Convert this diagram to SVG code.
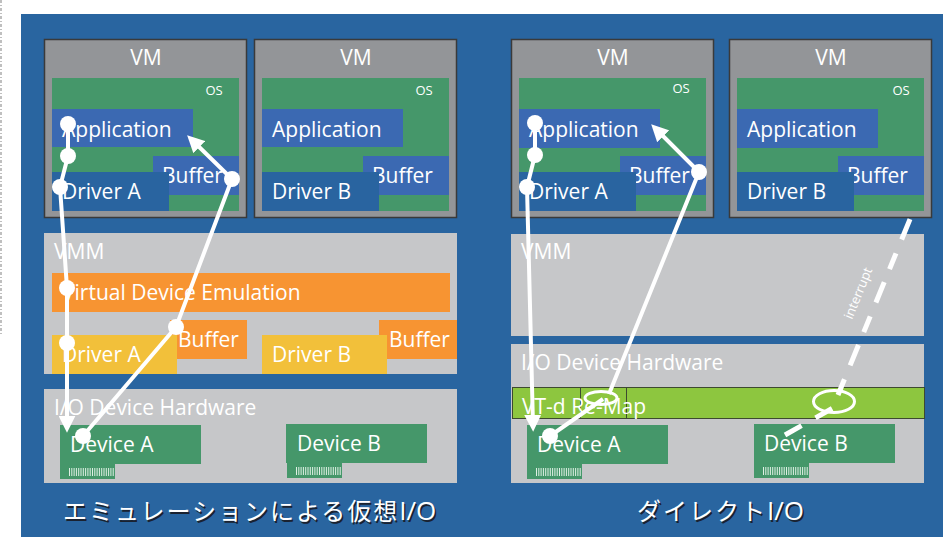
<svg xmlns="http://www.w3.org/2000/svg" width="943" height="537" viewBox="0 0 943 537">
<defs>
<style>
.t{font-family:"Open Sans","Noto Sans","Liberation Sans",sans-serif;fill:#ffffff;font-size:21px}
.os{font-family:"Open Sans","Noto Sans","Liberation Sans",sans-serif;fill:#ffffff;font-size:13px}
.cap{font-family:"Noto Sans CJK JP","Open Sans",sans-serif;fill:#ffffff;font-size:24px;letter-spacing:2px}
.caps{font-family:"Noto Sans CJK JP","Open Sans",sans-serif;fill:#1a2230;font-size:24px;letter-spacing:2px}
.lat{font-family:"Open Sans","Noto Sans",sans-serif;font-size:26px;letter-spacing:0px}
.vm{fill:#939598;stroke:#3a3a3a;stroke-width:1.5}
.osb{fill:#45976a}
.app{fill:#3b69b2}
.drv{fill:#2964a0}
.vmm{fill:#c6c7c9}
.org{fill:#f79432}
.yel{fill:#f2c03a}
.dev{fill:#45976a}
.bar{stroke:#dff0e4;stroke-width:8;stroke-dasharray:1 1.3}
.ln{fill:none;stroke:#ffffff;stroke-width:4}
.dash{fill:none;stroke:#ffffff;stroke-width:5}
.dot{fill:#ffffff}
</style>
<marker id="ah" viewBox="0 0 10 10" refX="6" refY="5" markerWidth="17" markerHeight="17" markerUnits="userSpaceOnUse" orient="auto">
<path d="M0,0 L10,5 L0,10 z" fill="#ffffff"/>
</marker>
</defs>
<rect x="0" y="0" width="943" height="537" fill="#ffffff"/>
<line x1="1" y1="0" x2="1" y2="335" stroke="#b0b0b0" stroke-width="2" stroke-dasharray="3 2 1 2" opacity="0.8"/>
<rect x="21" y="14" width="922" height="523" fill="#2965a0"/>

<!-- Left side: emulation -->
<g id="vm1">
<rect class="vm" x="44.5" y="39.5" width="202" height="178"/>
<text class="t" x="146" y="65" text-anchor="middle">VM</text>
<rect class="osb" x="52" y="78" width="187" height="133"/>
<text class="os" x="214" y="95" text-anchor="middle">OS</text>
<rect class="app" x="52" y="109" width="141" height="38"/>
<text class="t" x="62" y="137">Application</text>
<rect class="app" x="153" y="156" width="86" height="39"/>
<text class="t" x="162" y="183">Buffer</text>
<rect class="drv" x="52" y="172" width="117" height="39"/>
<text class="t" x="62" y="199">Driver A</text>
</g>
<g id="vm2">
<rect class="vm" x="254.5" y="39.5" width="202" height="178"/>
<text class="t" x="356" y="65" text-anchor="middle">VM</text>
<rect class="osb" x="262" y="78" width="187" height="133"/>
<text class="os" x="424" y="95" text-anchor="middle">OS</text>
<rect class="app" x="262" y="109" width="141" height="38"/>
<text class="t" x="272" y="137">Application</text>
<rect class="app" x="363" y="156" width="86" height="39"/>
<text class="t" x="372" y="183">Buffer</text>
<rect class="drv" x="262" y="172" width="117" height="39"/>
<text class="t" x="272" y="199">Driver B</text>
</g>
<g id="vmm-left">
<rect class="vmm" x="44" y="233" width="413" height="141"/>
<text class="t" x="54" y="259">VMM</text>
<rect class="org" x="52" y="273" width="398" height="39"/>
<text class="t" x="62" y="300">Virtual Device Emulation</text>
<rect class="org" x="170" y="320" width="77" height="39"/>
<text class="t" x="178" y="347">Buffer</text>
<rect class="yel" x="52" y="335" width="125" height="39"/>
<text class="t" x="62" y="362">Driver A</text>
<rect class="org" x="379" y="320" width="78" height="39"/>
<text class="t" x="389" y="347">Buffer</text>
<rect class="yel" x="262" y="335" width="125" height="39"/>
<text class="t" x="272" y="362">Driver B</text>
</g>
<g id="io-left">
<rect class="vmm" x="44" y="389" width="413" height="94"/>
<text class="t" x="54" y="415">I/O Device Hardware</text>
</g>
<g id="devA-left">
<rect class="dev" x="60" y="425" width="141" height="39"/>
<rect class="dev" x="60" y="463" width="55" height="16"/>
<line class="bar" x1="69" y1="472" x2="114" y2="472"/>
<text class="t" x="70" y="452">Device A</text>
</g>
<g id="devB-left">
<rect class="dev" x="286" y="424" width="141" height="39"/>
<rect class="dev" x="287" y="462" width="55" height="16"/>
<line class="bar" x1="296" y1="471" x2="341" y2="471"/>
<text class="t" x="297" y="451">Device B</text>
</g>
<g id="caption-left">
<text class="caps" x="64.5" y="521.5">エミュレーションによる仮想<tspan class="lat">I/O</tspan></text>
<text class="cap" x="63" y="520">エミュレーションによる仮想<tspan class="lat">I/O</tspan></text>
</g>

<!-- Right side: direct -->
<g id="vm3">
<rect class="vm" x="511.5" y="39.5" width="202" height="178"/>
<text class="t" x="613" y="65" text-anchor="middle">VM</text>
<rect class="osb" x="519" y="78" width="187" height="133"/>
<text class="os" x="681" y="93" text-anchor="middle">OS</text>
<rect class="app" x="519" y="109" width="141" height="39"/>
<text class="t" x="529" y="137">Application</text>
<rect class="app" x="620" y="156" width="86" height="39"/>
<text class="t" x="629" y="183">Buffer</text>
<rect class="drv" x="519" y="172" width="117" height="39"/>
<text class="t" x="529" y="199">Driver A</text>
</g>
<g id="vm4">
<rect class="vm" x="729.5" y="39.5" width="202" height="178"/>
<text class="t" x="831" y="65" text-anchor="middle">VM</text>
<rect class="osb" x="737" y="78" width="187" height="133"/>
<text class="os" x="901" y="95" text-anchor="middle">OS</text>
<rect class="app" x="737" y="109" width="141" height="39"/>
<text class="t" x="747" y="137">Application</text>
<rect class="app" x="838" y="156" width="86" height="39"/>
<text class="t" x="847" y="183">Buffer</text>
<rect class="drv" x="737" y="172" width="117" height="39"/>
<text class="t" x="747" y="199">Driver B</text>
</g>
<g id="vmm-right">
<rect class="vmm" x="511" y="234" width="413" height="102"/>
<text class="t" x="521" y="259">VMM</text>
</g>
<g id="io-right">
<rect class="vmm" x="511" y="344" width="413" height="139"/>
<text class="t" x="521" y="370">I/O Device Hardware</text>
</g>
<g id="vtd">
<rect x="512.5" y="387.5" width="412" height="31" fill="#8dc63f" stroke="#3d4a30" stroke-width="1"/>
<rect x="580.5" y="387.5" width="46" height="31" fill="none" stroke="#3d4a30" stroke-width="1"/>
<text class="t" x="522" y="414">VT-d Re-Map</text>
</g>
<g id="devA-right">
<rect class="dev" x="527" y="425" width="141" height="39"/>
<rect class="dev" x="527" y="463" width="55" height="16"/>
<line class="bar" x1="536" y1="472" x2="581" y2="472"/>
<text class="t" x="537" y="452">Device A</text>
</g>
<g id="devB-right">
<rect class="dev" x="754" y="424" width="141" height="39"/>
<rect class="dev" x="754" y="462" width="55" height="16"/>
<line class="bar" x1="763" y1="471" x2="808" y2="471"/>
<text class="t" x="764" y="451">Device B</text>
</g>
<g id="caption-right">
<text class="caps" x="638.5" y="521.5">ダイレクト<tspan class="lat">I/O</tspan></text>
<text class="cap" x="637" y="520">ダイレクト<tspan class="lat">I/O</tspan></text>
</g>

<g id="connectors">
<!-- left emulation paths -->
<polyline class="ln" points="68,124 68,156 60,187 67,288 67,343 67,426" marker-end="url(#ah)"/>
<polyline class="ln" points="83,436 176,327 232,179 192,140" marker-end="url(#ah)"/>
<circle class="dot" cx="68" cy="124" r="8"/>
<circle class="dot" cx="68" cy="156" r="8"/>
<circle class="dot" cx="60" cy="187" r="8"/>
<circle class="dot" cx="67" cy="288" r="8"/>
<circle class="dot" cx="67" cy="343" r="8"/>
<circle class="dot" cx="83" cy="436" r="8"/>
<circle class="dot" cx="176" cy="327" r="8"/>
<circle class="dot" cx="232" cy="179" r="8"/>
<!-- right direct paths -->
<polyline class="ln" points="535,123 535,155 527,187 533,425" marker-end="url(#ah)"/>
<polyline class="ln" points="550,436 603,399"/>
<ellipse cx="601" cy="398" rx="16" ry="6.5" fill="none" stroke="#ffffff" stroke-width="3"/>
<polyline class="ln" points="609,394 699,172 656,129" marker-end="url(#ah)"/>
<circle class="dot" cx="535" cy="123" r="8"/>
<circle class="dot" cx="535" cy="155" r="8"/>
<circle class="dot" cx="527" cy="187" r="8"/>
<circle class="dot" cx="550" cy="436" r="8"/>
<circle class="dot" cx="699" cy="172" r="8"/>
<!-- interrupt -->
<line class="dash" x1="785" y1="435" x2="833" y2="408" stroke-dasharray="19 16"/>
<ellipse cx="834" cy="401.5" rx="20.5" ry="11" fill="none" stroke="#ffffff" stroke-width="3"/>
<line class="dash" x1="838" y1="395" x2="915" y2="207" stroke-dasharray="17 15 22 14"/>
<text class="os" transform="translate(852,320) rotate(-67.7)">interrupt</text>
</g>
</svg>
